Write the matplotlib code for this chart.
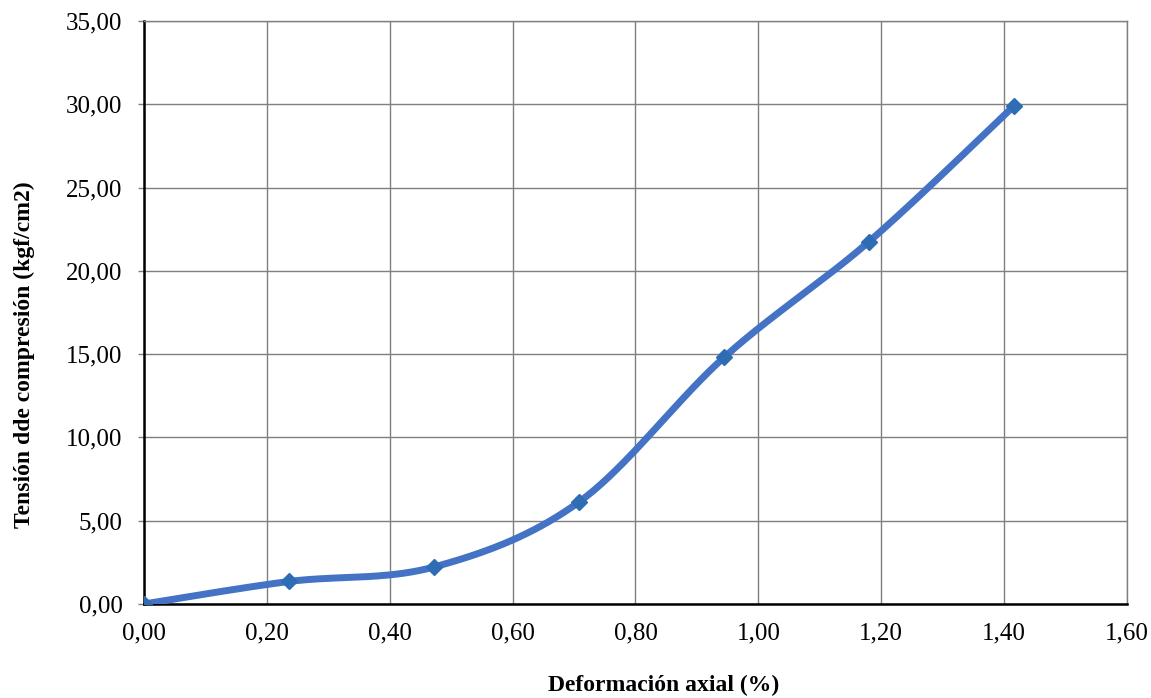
import numpy as np
import matplotlib
matplotlib.use("Agg")
import matplotlib.pyplot as plt
from matplotlib.ticker import FuncFormatter

# datos
deformacion = [0.0, 0.236, 0.472, 0.708, 0.944, 1.18, 1.416]
tension = [0.0, 1.35, 2.22, 6.12, 14.8, 21.75, 29.9]


def suavizar(x, y, n=40):
    # curva suavizada tipo Excel (Catmull-Rom con Bezier cubico)
    x = np.asarray(x, float)
    y = np.asarray(y, float)
    px = np.concatenate([[x[0]], x, [x[-1]]])
    py = np.concatenate([[y[0]], y, [y[-1]]])
    xs, ys = [], []
    t = np.linspace(0, 1, n)
    for i in range(1, len(px) - 2):
        p0 = np.array([px[i], py[i]])
        p3 = np.array([px[i + 1], py[i + 1]])
        p1 = p0 + (np.array([px[i + 1], py[i + 1]]) - np.array([px[i - 1], py[i - 1]])) / 6
        p2 = p3 - (np.array([px[i + 2], py[i + 2]]) - np.array([px[i], py[i]])) / 6
        b = ((1 - t) ** 3)[:, None] * p0 + (3 * (1 - t) ** 2 * t)[:, None] * p1 \
            + (3 * (1 - t) * t ** 2)[:, None] * p2 + (t ** 3)[:, None] * p3
        xs.extend(b[:, 0])
        ys.extend(b[:, 1])
    return xs, ys


plt.rcParams['font.family'] = ['Liberation Serif', 'DejaVu Serif']

fig = plt.figure(figsize=(11.51, 6.98), dpi=100)
ax = fig.add_axes([0.1251, 0.1347, 0.8540, 0.8352])

sx, sy = suavizar(deformacion, tension)
ax.plot(sx, sy, color='#4472C4', lw=5, solid_capstyle='round', zorder=3)
ax.plot(deformacion, tension, ls='none', marker='D', ms=8, color='#2E6DB4', zorder=4)

ax.set_xlim(0, 1.6)
ax.set_ylim(0, 35)
ax.set_xticks(np.arange(0, 1.61, 0.2))
ax.set_yticks(np.arange(0, 35.1, 5))
fmt = FuncFormatter(lambda v, p: f"{v:.2f}".replace('.', ','))
ax.xaxis.set_major_formatter(fmt)
ax.yaxis.set_major_formatter(fmt)
ax.grid(True, color='#7f7f7f', lw=1.0)
ax.set_axisbelow(True)
for s in ['top', 'right']:
    ax.spines[s].set_color('#7f7f7f')
    ax.spines[s].set_linewidth(1.0)
for s in ['left', 'bottom']:
    ax.spines[s].set_color('black')
    ax.spines[s].set_linewidth(1.8)
ax.tick_params(axis='y', labelsize=18, length=4.5, width=1, color='#7f7f7f', pad=11)
ax.tick_params(axis='x', labelsize=18, length=0, pad=13)

ax.set_xlabel('Deformación axial (%)', fontsize=17, fontweight='bold')
ax.set_ylabel('Tensión dde compresión (kgf/cm2)', fontsize=17, fontweight='bold')
ax.xaxis.set_label_coords(0.529, -0.139)
ax.xaxis.label.set_va('center')
ax.yaxis.set_label_coords(-0.122, 0.427)
ax.yaxis.label.set_va('center')

fig.savefig('out.png', dpi=100)
